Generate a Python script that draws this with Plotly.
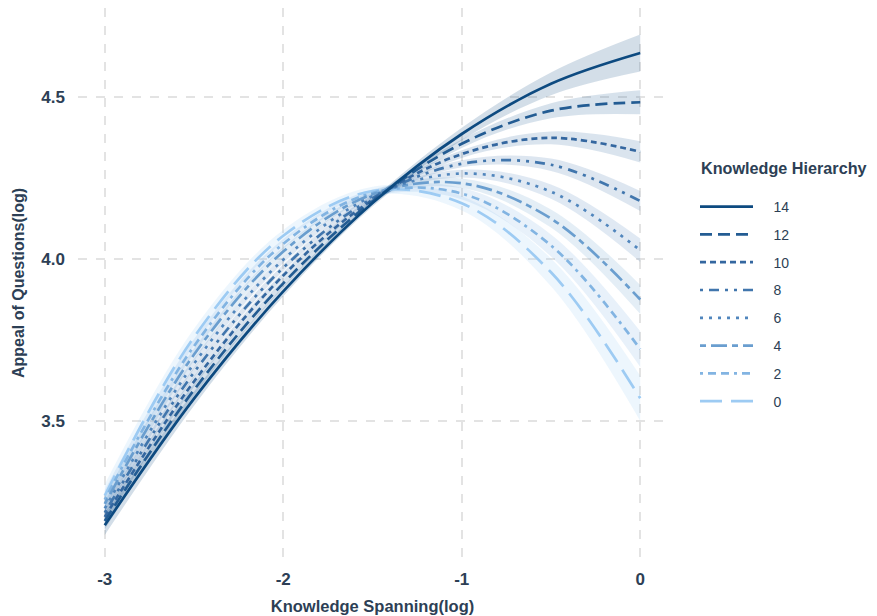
import plotly.graph_objects as go

# x grid (Knowledge Spanning, log)
x_vals = [-3, -2.5, -2, -1.5, -1, -0.5, 0]

hierarchy = [14, 12, 10, 8, 6, 4, 2, 0]

# fitted appeal values
y_h14 = [3.178, 3.569, 3.900, 4.173, 4.386, 4.541, 4.636]
y_h12 = [3.191, 3.596, 3.925, 4.178, 4.356, 4.458, 4.484]
y_h10 = [3.204, 3.622, 3.949, 4.183, 4.324, 4.374, 4.331]
y_h8 = [3.217, 3.650, 3.973, 4.188, 4.294, 4.291, 4.179]
y_h6 = [3.230, 3.677, 3.998, 4.194, 4.264, 4.208, 4.027]
y_h4 = [3.244, 3.705, 4.023, 4.200, 4.234, 4.125, 3.875]
y_h2 = [3.257, 3.731, 4.047, 4.204, 4.202, 4.042, 3.722]
y_h0 = [3.270, 3.759, 4.072, 4.210, 4.172, 3.959, 3.570]

# confidence band half-widths
ci_h14 = [0.030, 0.022, 0.015, 0.011, 0.019, 0.035, 0.057]
ci_h12 = [0.025, 0.018, 0.012, 0.010, 0.013, 0.023, 0.037]
ci_h10 = [0.022, 0.016, 0.011, 0.009, 0.012, 0.020, 0.033]
ci_h8 = [0.021, 0.015, 0.010, 0.009, 0.011, 0.019, 0.031]
ci_h6 = [0.022, 0.016, 0.011, 0.009, 0.012, 0.022, 0.036]
ci_h4 = [0.026, 0.019, 0.013, 0.010, 0.015, 0.028, 0.045]
ci_h2 = [0.030, 0.022, 0.015, 0.011, 0.018, 0.034, 0.055]
ci_h0 = [0.035, 0.026, 0.018, 0.013, 0.022, 0.043, 0.070]

series_y = [y_h14, y_h12, y_h10, y_h8, y_h6, y_h4, y_h2, y_h0]
series_ci = [ci_h14, ci_h12, ci_h10, ci_h8, ci_h6, ci_h4, ci_h2, ci_h0]

colors = ["#0d4a80", "#235c93", "#3467a0", "#4176ad", "#5186bd", "#6a9ecf", "#82b4e2", "#9dcbf3"]
dashes = ["solid", "12px,6px", "6px,4px", "3px,6px,10px,6px,3px,6px",
          "3px,6px", "6px,5px,16px,5px", "3px,5px,8px,5px,8px,5px", "22px,9px"]

TEXT = "#2d3f55"

# figure is drawn inside the page's 8px body margin
W, H = 869, 608
L, T, R, B = 70, 0, 210, 58
PW, PH = W - L - R, H - T - B


def rgba(hexc, a):
    h = hexc.lstrip("#")
    r, g, b = int(h[0:2], 16), int(h[2:4], 16), int(h[4:6], 16)
    return f"rgba({r},{g},{b},{a})"


fig = go.Figure()

# bands
for i in range(len(hierarchy) - 1, -1, -1):
    ys, ci = series_y[i], series_ci[i]
    upper = [y + c for y, c in zip(ys, ci)]
    lower = [y - c for y, c in zip(ys, ci)]
    fig.add_trace(go.Scatter(x=x_vals, y=upper, mode="lines", line=dict(width=0, shape="spline"),
                             showlegend=False, hoverinfo="skip"))
    fig.add_trace(go.Scatter(x=x_vals, y=lower, mode="lines", line=dict(width=0, shape="spline"),
                             fill="tonexty", fillcolor=rgba(colors[i], 0.18),
                             showlegend=False, hoverinfo="skip"))

# lines (dark on top)
NB = "\u00a0" * 4
for i in range(len(hierarchy) - 1, -1, -1):
    fig.add_trace(go.Scatter(x=x_vals, y=series_y[i], mode="lines",
                             name=NB + str(hierarchy[i]), legendrank=i + 1,
                             legendgroup=str(hierarchy[i]),
                             line=dict(color=colors[i], width=2.7, dash=dashes[i], shape="spline")))

axis_font = dict(family="Liberation Sans", size=17, color=TEXT)
fig.update_layout(
    width=W, height=H,
    margin=dict(l=L, r=R, t=T, b=B),
    paper_bgcolor="white", plot_bgcolor="white",
    font=dict(family="Liberation Sans", color=TEXT),
    xaxis=dict(range=[-3.15, 0.15], tickvals=[-3, -2, -1, 0], ticktext=["<b>-3</b>", "<b>-2</b>", "<b>-1</b>", "<b>0</b>"],
               tickfont=axis_font, showgrid=True, gridcolor="#e3e3e3", griddash="dash", gridwidth=1.5,
               zeroline=False, showline=False, ticks="", automargin=False, ticklabelstandoff=9,
               title=dict(text="<b>Knowledge Spanning(log)</b>", font=dict(size=16.5, color=TEXT), standoff=12)),
    yaxis=dict(range=[3.077, 4.775], tickvals=[3.5, 4.0, 4.5], ticktext=["<b>3.5</b>", "<b>4.0</b>", "<b>4.5</b>"],
               tickfont=axis_font, showgrid=True, gridcolor="#e3e3e3", griddash="dash", gridwidth=1.5,
               zeroline=False, showline=False, ticks="", automargin=False, ticklabelstandoff=12,
               title=dict(text="<b>Appeal of Questions(log)</b>", font=dict(size=16, color=TEXT), standoff=12)),
    legend=dict(xref="container", yref="container", x=687 / W, y=1 - 183 / H, xanchor="left", yanchor="top",
                font=dict(size=14, color=TEXT), itemwidth=53, tracegroupgap=6.6,
                traceorder="grouped", bgcolor="rgba(0,0,0,0)"),
    annotations=[dict(text="<b>Knowledge Hierarchy</b>", xref="paper", yref="paper",
                      x=(691 - L) / PW, y=1 - (160 - T) / PH, xanchor="left", yanchor="middle",
                      showarrow=False, font=dict(size=16.2, color=TEXT))],
)

fig.write_html("out.html")
